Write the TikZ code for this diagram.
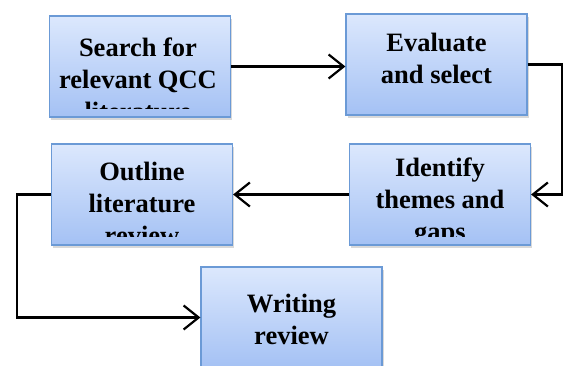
\documentclass[tikz,border=0pt]{standalone}
\usepackage{fontspec}
\setmainfont{Liberation Serif}
\usetikzlibrary{arrows.meta,shadows}
\definecolor{boxtop}{HTML}{DCE8FD}
\definecolor{boxbottom}{HTML}{A4C1F4}
\definecolor{boxline}{HTML}{6B9AD6}
\tikzstyle{Step}=[minimum width=181pt, minimum height=101pt, inner sep=0pt, top color=boxtop, bottom color=boxbottom, draw=boxline, line width=1.2pt, drop shadow={shadow xshift=1.5pt, shadow yshift=-3pt, opacity=0.3}]
\tikzstyle{StepText}=[align=center, inner sep=0pt, text=black, font=\fontsize{26.5}{32}\selectfont\bfseries]
\tikzstyle{arrow}=[line width=2.5pt, draw=black, -{Straight Barb[length=15pt,width=24pt,line width=2.2pt]}]

\begin{document}
\begin{tikzpicture}[x=1pt, y=-1pt]
	\useasboundingbox (0,0) rectangle (563,365);
	% boxes
	\node [style=Step] (search) at (140,66.5) {};
	\node [style=Step] (evaluate) at (436.5,64.5) {};
	\node [style=Step] (outline) at (142,194.5) {};
	\node [style=Step] (identify) at (440,194.5) {};
	\node [style=Step] (writing) at (291.5,317.5) {};

	% texts, cut off near the bottom of each box
	\begin{scope}
		\clip (search.north west) rectangle ([yshift=9pt]search.south east);
		\node [style=StepText] (search_text) at (138,79) {Search for\\relevant QCC\\literature};
	\end{scope}
	\begin{scope}
		\clip (evaluate.north west) rectangle ([yshift=9pt]evaluate.south east);
		\node [style=StepText] (evaluate_text) at (436.5,58) {Evaluate\\and select};
	\end{scope}
	\begin{scope}
		\clip (outline.north west) rectangle ([yshift=9pt]outline.south east);
		\node [style=StepText] (outline_text) at (142,203) {Outline\\literature\\review};
	\end{scope}
	\begin{scope}
		\clip (identify.north west) rectangle ([yshift=9pt]identify.south east);
		\node [style=StepText] (identify_text) at (440,202) {Identify\\themes and\\gaps};
	\end{scope}
	\node [style=StepText] (writing_text) at (291.5,319) {Writing\\review};

	% connectors
	\coordinate (right_bend) at (562,64.5);
	\coordinate (left_bend) at (17,194.5);
	\draw [style=arrow] (search.east) -- (evaluate.west |- search.east);
	\draw [style=arrow] (evaluate.east) -- (right_bend) |- (identify.east);
	\draw [style=arrow] (identify.west) -- (outline.east);
	\draw [style=arrow] (outline.west) -- (left_bend) |- (writing.west);
\end{tikzpicture}
\end{document}
